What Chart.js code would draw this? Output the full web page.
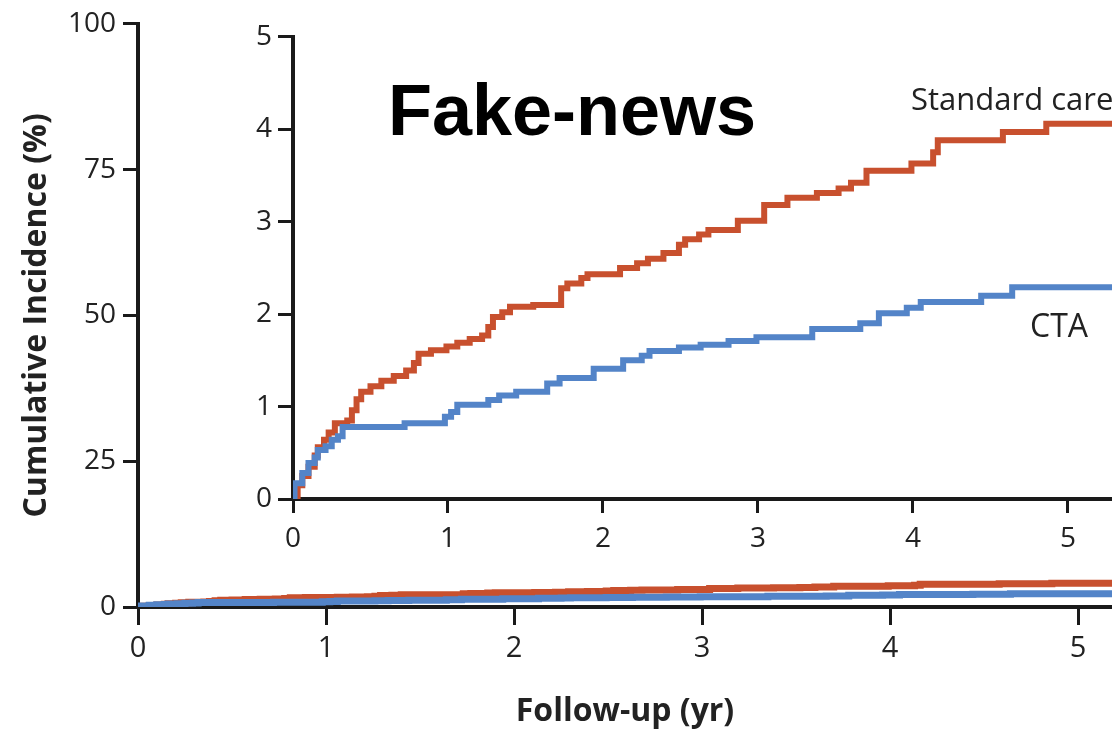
<!DOCTYPE html>
<html>
<head>
<meta charset="UTF-8">
<title>Cumulative Incidence</title>
<style>
  html, body { margin: 0; padding: 0; background: #fff; overflow: hidden; }
  #wrap { position: relative; width: 1112px; height: 735px; overflow: hidden; }
  #outer { position: absolute; left: 0; top: 0; }
  #inset { position: absolute; left: 230px; top: 14px; }
  .note { position: absolute; white-space: nowrap; color: #222; font-family: 'Open Sans', sans-serif; }
  #fake { left: 388px; top: 74px; font: bold 72px 'Liberation Sans', Arial, sans-serif; line-height: 72px; color: #000; }
  #lblStd { left: 911px; top: 83px; font-size: 31px; line-height: 31px; }
  #lblCta { left: 1030px; top: 309px; font-size: 32px; line-height: 32px; }
</style>
</head>
<body>
<div id="wrap">
  <canvas id="outer" width="1112" height="735"></canvas>
  <canvas id="inset" width="882" height="546"></canvas>
  <div id="fake" class="note">Fake-news</div>
  <div id="lblStd" class="note">Standard care</div>
  <div id="lblCta" class="note">CTA</div>
</div>

<script src="https://cdn.jsdelivr.net/npm/chart.js"></script>
<script>
  // step points (years, %)
  const standardTimes  = [0, 0.03, 0.06, 0.10, 0.14, 0.16, 0.20, 0.23, 0.27, 0.35,
                          0.38, 0.41, 0.44, 0.50, 0.57, 0.65, 0.73, 0.78, 0.81, 0.89,
                          0.99, 1.06, 1.14, 1.22, 1.26, 1.29, 1.35, 1.40, 1.55, 1.73,
                          1.77, 1.86, 1.90, 2.11, 2.22, 2.29, 2.39, 2.49, 2.53, 2.62,
                          2.68, 2.87, 3.04, 3.19, 3.38, 3.52, 3.60, 3.70, 3.99, 4.13,
                          4.16, 4.58, 4.86, 5.30];
  const standardValues = [0, 0.15, 0.25, 0.35, 0.47, 0.56, 0.64, 0.72, 0.82, 0.85,
                          0.96, 1.08, 1.16, 1.22, 1.28, 1.33, 1.39, 1.47, 1.57, 1.61,
                          1.65, 1.69, 1.73, 1.77, 1.86, 1.97, 2.02, 2.08, 2.10, 2.28,
                          2.33, 2.39, 2.43, 2.50, 2.55, 2.60, 2.66, 2.75, 2.81, 2.86,
                          2.91, 3.01, 3.18, 3.26, 3.31, 3.36, 3.42, 3.55, 3.63, 3.75,
                          3.88, 3.97, 4.06, 4.06];

  const ctaTimes  = [0, 0.01, 0.06, 0.10, 0.14, 0.16, 0.21, 0.25, 0.29, 0.32,
                     0.72, 0.98, 1.02, 1.06, 1.26, 1.33, 1.44, 1.64, 1.72, 1.94,
                     2.13, 2.25, 2.30, 2.49, 2.63, 2.81, 2.99, 3.35, 3.66, 3.78,
                     3.96, 4.05, 4.44, 4.64, 5.30];
  const ctaValues = [0, 0.17, 0.28, 0.39, 0.45, 0.53, 0.57, 0.64, 0.68, 0.78,
                     0.82, 0.89, 0.94, 1.02, 1.07, 1.12, 1.16, 1.25, 1.31, 1.41,
                     1.50, 1.55, 1.60, 1.64, 1.67, 1.71, 1.75, 1.84, 1.90, 2.01,
                     2.07, 2.13, 2.20, 2.29, 2.29];

  const xTicks      = [0, 1, 2, 3, 4, 5];
  const outerYTicks = [0, 25, 50, 75, 100];
  const insetYTicks = [0, 1, 2, 3, 4, 5];

  const RED  = '#c8502e';
  const BLUE = '#5384c8';
  const INK  = '#1a1a1a';

  Chart.defaults.font.family = "'Open Sans', sans-serif";
  Chart.defaults.color = '#222';

  const pts = (ts, vs) => ts.map((t, i) => ({ x: t, y: vs[i] }));

  function datasets(width) {
    return [
      { label: 'CTA', data: pts(ctaTimes, ctaValues), borderColor: BLUE,
        borderWidth: width, stepped: true, pointRadius: 0, fill: false },
      { label: 'Standard care', data: pts(standardTimes, standardValues), borderColor: RED,
        borderWidth: width, stepped: true, pointRadius: 0, fill: false }
    ];
  }

  function axis(opts) {
    return {
      type: 'linear',
      min: opts.min, max: opts.max,
      afterBuildTicks: s => { s.ticks = opts.ticks.map(v => ({ value: v })); },
      afterFit: opts.fit,
      grid: { display: true, drawOnChartArea: false, drawTicks: true,
              tickLength: opts.tickLength, tickWidth: 3, tickColor: INK, color: INK },
      border: { display: true, color: INK, width: opts.border },
      ticks: { padding: opts.pad, autoSkip: false, maxRotation: 0,
               font: { size: opts.fontSize } },
      title: opts.title || { display: false }
    };
  }

  const common = {
    responsive: false,
    animation: false,
    plugins: { legend: { display: false }, tooltip: { enabled: false } }
  };

  // main chart, 0-100 %
  new Chart(document.getElementById('outer'), {
    type: 'line',
    data: { datasets: datasets(7) },
    options: Object.assign({}, common, {
      layout: { padding: { top: 21, right: 0, bottom: 0, left: 0 } },
      scales: {
        x: axis({ min: 0, max: 5.18, ticks: xTicks, tickLength: 18, border: 4, pad: 6, fontSize: 29,
                  fit: s => { s.height = 128; },
                  title: { display: true, text: 'Follow-up (yr)', color: '#222',
                           font: { size: 32, weight: 'bold' }, padding: { top: 0, bottom: 4 } } }),
        y: axis({ min: 0, max: 100, ticks: outerYTicks, tickLength: 15, border: 4, pad: 7, fontSize: 28,
                  fit: s => { s.width = 138; },
                  title: { display: true, text: 'Cumulative Incidence (%)', color: '#222',
                           font: { size: 32, weight: 'bold' }, padding: { top: 18, bottom: 0 } } })
      }
    })
  });

  // inset, 0-5 %
  new Chart(document.getElementById('inset'), {
    type: 'line',
    data: { datasets: datasets(6) },
    options: Object.assign({}, common, {
      layout: { padding: { top: 16, right: 0, bottom: 0, left: 0 } },
      scales: {
        x: axis({ min: 0, max: 5.284, ticks: xTicks, tickLength: 14, border: 4, pad: 9, fontSize: 28,
                  fit: s => { s.height = 61; } }),
        y: axis({ min: 0, max: 5, ticks: insetYTicks, tickLength: 15, border: 4, pad: 6, fontSize: 28,
                  fit: s => { s.width = 63; } })
      }
    })
  });
</script>
</body>
</html>
